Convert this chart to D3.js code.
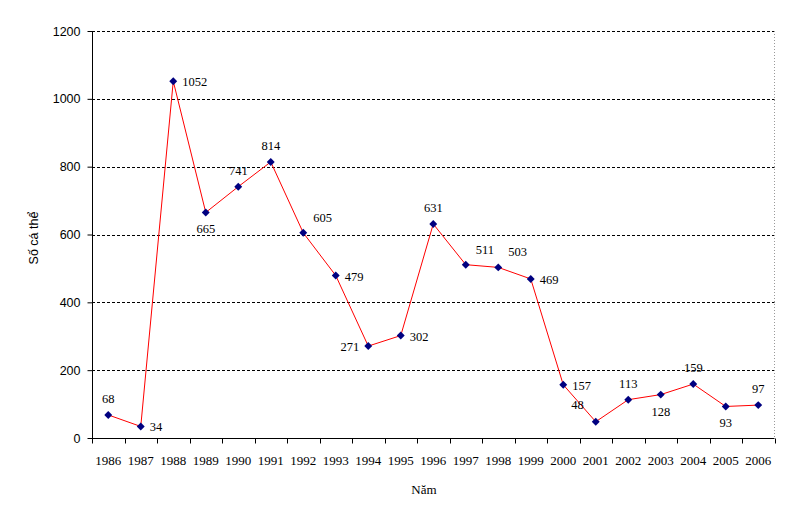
<!DOCTYPE html>
<html><head><meta charset="utf-8">
<script src="https://cdn.jsdelivr.net/npm/d3@7"></script>
<style>body{margin:0;background:#fff}svg{display:block}</style>
</head><body>
<svg id="c" width="790" height="522"></svg>
<script>
const years = ["1986","1987","1988","1989","1990","1991","1992","1993","1994","1995","1996","1997","1998","1999","2000","2001","2002","2003","2004","2005","2006"];
const counts = [68,34,1052,665,741,814,605,479,271,302,631,511,503,469,157,48,113,128,159,93,97];
const labelPos = ["t","r","r","b","t","t","tr","r","l","r","t","tr","tr","r","r","tl","t","b","t","b","t"];
const yTicks = [0,200,400,600,800,1000,1200];

const svg = d3.select("#c");
const L = 92, R = 774.5, T = 31, B = 438;
const x = d3.scaleBand().domain(years).range([L, R]);
const y = d3.scaleLinear().domain([0,1200]).range([B, T]);

// gridlines
svg.append("g").selectAll("line").data(yTicks.filter(d=>d>0)).join("line")
  .attr("x1", L).attr("x2", R).attr("y1", d=>Math.round(y(d))+0.5).attr("y2", d=>Math.round(y(d))+0.5)
  .attr("stroke","#000").attr("stroke-dasharray","3,2").attr("stroke-width",1);
// right border
svg.append("line").attr("x1",R).attr("x2",R).attr("y1",T).attr("y2",B)
  .attr("stroke","#999").attr("stroke-dasharray","1,2");

// y axis
const ya = svg.append("g").attr("transform",`translate(${L+0.5},0)`)
  .call(d3.axisLeft(y).tickValues(yTicks).tickSize(5).tickPadding(7).tickFormat(d3.format("d")));
ya.selectAll("text").attr("font-family","Liberation Sans, Arial, sans-serif").attr("font-size","12.5px").attr("fill","#000");
ya.selectAll("line,path").attr("stroke","#000");
ya.select(".domain").attr("d",`M0,${B}V${T}`);

// x axis
const xa = svg.append("g").attr("transform",`translate(0,${B+0.5})`)
  .call(d3.axisBottom(x).tickSize(0).tickPadding(17));
xa.select(".domain").attr("d",`M${L},0H${R}`).attr("stroke","#000");
xa.selectAll("text").attr("font-family","Liberation Serif, Times New Roman, serif").attr("font-size","13px").attr("fill","#000");
// tick marks at band boundaries
const bounds = years.map(d=>x(d)).concat([R]);
xa.append("g").selectAll("line").data(bounds).join("line")
  .attr("x1",d=>Math.round(d)+0.5).attr("x2",d=>Math.round(d)+0.5).attr("y1",0).attr("y2",5).attr("stroke","#000");

// titles
svg.append("text").attr("x",424).attr("y",494).attr("text-anchor","middle")
  .attr("font-family","Liberation Serif, Times New Roman, serif").attr("font-size","13px").text("Năm");
svg.append("text").attr("transform","translate(38,238) rotate(-90)").attr("text-anchor","middle")
  .attr("font-family","Liberation Sans, Arial, sans-serif").attr("font-size","12.5px").text("Số cá thể");

const cx = d => x(d) + x.bandwidth()/2;
// line
svg.append("path").datum(years.map((d,i)=>[cx(d), y(counts[i])]))
  .attr("d", d3.line()).attr("fill","none").attr("stroke","#ff0000").attr("stroke-width",1);
// markers
svg.append("g").selectAll("path").data(years).join("path")
  .attr("transform",(d,i)=>`translate(${cx(d)},${y(counts[i])})`)
  .attr("d", d3.symbol().type(d3.symbolDiamond2).size(40)).attr("fill","#000080");

// labels
const off = {t:[0,-12,"middle"], b:[0,21,"middle"], r:[9,5,"start"], l:[-9,5,"end"], tr:[10,-11,"start"], tl:[-12,-13,"end"]};
svg.append("g").selectAll("text").data(years).join("text")
  .attr("x",(d,i)=>cx(d)+off[labelPos[i]][0])
  .attr("y",(d,i)=>y(counts[i])+off[labelPos[i]][1])
  .attr("text-anchor",(d,i)=>off[labelPos[i]][2])
  .attr("font-family","Liberation Serif, Times New Roman, serif").attr("font-size","12.5px")
  .text((d,i)=>counts[i]);
</script>
</body></html>
